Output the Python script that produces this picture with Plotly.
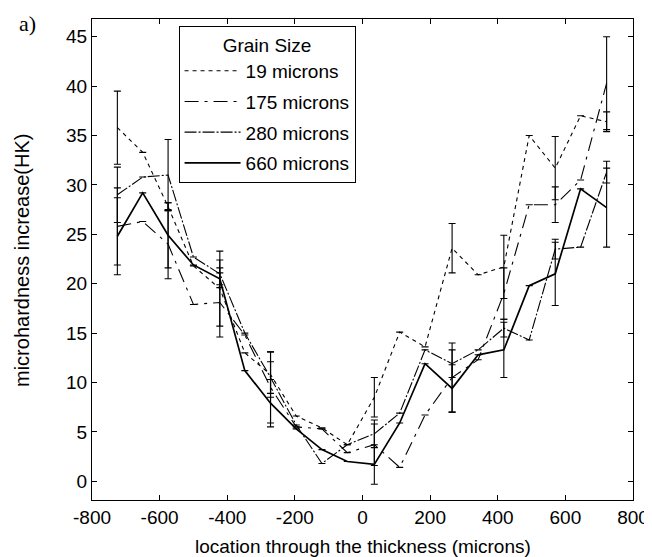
import plotly.graph_objects as go

# location through the thickness (microns)
location = [-725, -650, -575, -500, -422, -348, -272, -196, -120, -45,
            35, 110, 185, 265, 342, 418, 493, 570, 645, 722]

series_names = ["19 microns", "175 microns", "280 microns", "660 microns"]

hk_19 = [35.8, 33.3, 27.8, 21.8, 19.5, 13.0, 10.8, 6.6, 5.4, 3.7,
         8.5, 15.1, 13.6, 23.6, 20.9, 21.7, 35.0, 31.7, 37.0, 36.4]
hk_175 = [25.8, 26.3, 24.0, 17.9, 18.1, 14.8, 9.5, 5.5, 5.3, 2.9,
          3.7, 1.4, 6.7, 10.5, 12.3, 19.0, 28.0, 28.0, 30.5, 40.3]
hk_280 = [29.0, 30.8, 31.0, 22.7, 21.0, 15.0, 10.5, 5.7, 1.8, 3.7,
          4.8, 6.9, 13.3, 11.9, 13.3, 15.5, 14.3, 23.5, 23.7, 31.3]
hk_660 = [24.8, 29.2, 24.9, 21.9, 20.5, 11.2, 7.9, 5.3, 3.2, 2.0,
          1.7, 5.9, 11.9, 9.4, 12.8, 13.3, 19.8, 21.0, 29.6, 27.7]

# error half-widths (0 = just the tick mark)
err_19 = [3.7, 0, 0.4, 0, 3.8, 0, 2.3, 0, 0, 0,
          2.0, 0, 0, 2.5, 0, 3.2, 0, 3.2, 0, 1.0]
err_175 = [3.9, 0, 3.5, 0, 3.5, 0, 3.6, 0, 0, 0,
           2.1, 0, 0, 3.5, 0, 2.6, 0, 1.8, 0, 4.7]
err_280 = [2.8, 0, 3.6, 0, 1.4, 0, 1.6, 0, 0, 0,
           1.4, 0, 0, 1.4, 0, 0.9, 0, 1.0, 0, 1.1]
err_660 = [3.9, 0, 3.3, 0, 0.6, 0, 2.4, 0, 0, 0,
           2.0, 0, 0, 2.4, 0, 2.8, 0, 3.2, 0, 4.0]

x_ticks = [-800, -600, -400, -200, 0, 200, 400, 600, 800]
x_tick_labels = ["-800", "-600", "-400", "-200", "0", "200", "400", "600", "800"]
y_ticks = [0, 5, 10, 15, 20, 25, 30, 35, 40, 45]

FONT = "Liberation Sans, Arial, sans-serif"

styles = [
    dict(dash="4px,4px", width=1.1),
    dict(dash="14px,6px,3px,6px", width=1.1),
    dict(dash="12px,2px,2px,2px", width=1.1),
    dict(dash="solid", width=1.7),
]
values = [hk_19, hk_175, hk_280, hk_660]
errors = [err_19, err_175, err_280, err_660]

fig = go.Figure()
for i, (name, yv, ev, st) in enumerate(zip(series_names, values, errors, styles)):
    fig.add_trace(go.Scatter(
        x=location, y=yv, name=name, mode="lines", legendgroup=f"g{i}",
        line=dict(color="black", width=st["width"], dash=st["dash"]),
        error_y=dict(type="data", array=ev, symmetric=True, visible=True,
                     color="black", thickness=1.1, width=3.5),
    ))

axis_common = dict(
    showline=True, linecolor="black", linewidth=1, mirror="ticks",
    ticks="inside", ticklen=5, tickcolor="black", showgrid=False,
    zeroline=False, automargin=False, ticklabelstandoff=0,
    tickfont=dict(family=FONT, size=19, color="black"),
)

# plot area in the page: left 92, right 633, top 19, bottom 500
PW, PH = 541, 481

fig.update_layout(
    width=644, height=549,
    margin=dict(l=84, r=19, t=11, b=57, autoexpand=False),
    paper_bgcolor="white", plot_bgcolor="white",
    font=dict(family=FONT, color="black"),
    showlegend=True,
    legend=dict(
        x=0.16, y=0.985, xanchor="left", yanchor="top",
        bordercolor="black", borderwidth=1, bgcolor="white",
        font=dict(family=FONT, size=19, color="black"),
        title=dict(text="Grain Size", side="top center",
                   font=dict(family=FONT, size=19, color="black")),
        tracegroupgap=3, itemwidth=56,
    ),
    xaxis=dict(range=[-800, 800], tickvals=x_ticks, ticktext=x_tick_labels,
               **axis_common),
    yaxis=dict(range=[-1.9, 46.8], tickvals=y_ticks, **axis_common),
    annotations=[
        dict(text="a)", x=(27 - 92) / PW, y=(500 - 9) / PH,
             xref="paper", yref="paper", xanchor="center", yanchor="top",
             showarrow=False,
             font=dict(family="Liberation Serif, Times New Roman, serif",
                       size=22, color="black")),
        dict(text="location through the thickness (microns)",
             x=0.5, y=-46 / PH, xref="paper", yref="paper",
             xanchor="center", yanchor="middle", showarrow=False,
             font=dict(family=FONT, size=19, color="black")),
        dict(text="microhardness increase(HK)", textangle=-90,
             x=(22 - 92) / PW, y=(500 - 261) / PH, xref="paper", yref="paper",
             xanchor="center", yanchor="middle", showarrow=False,
             font=dict(family=FONT, size=20, color="black")),
    ],
)

fig.write_html("out.html")
